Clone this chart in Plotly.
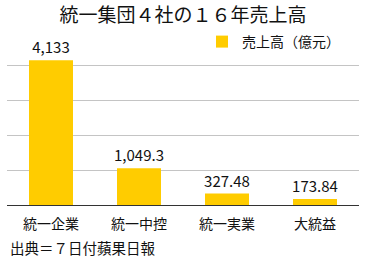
import plotly.graph_objects as go

categories = ["統一企業", "統一中控", "統一実業", "大統益"]
sales = [4133, 1049.3, 327.48, 173.84]
value_labels = ["4,133", "1,049.3", "327.48", "173.84"]
series_name = "売上高（億元）"
title_text = "統一集団４社の１６年売上高"
source_text = "出典＝７日付蘋果日報"

FONT = "Noto Sans CJK JP, Noto Sans, sans-serif"
W, H = 368, 261
ml, mr, mt, mb = 7, 9, 30, 56

fig = go.Figure()
fig.add_trace(go.Bar(
    x=categories, y=sales, name=series_name,
    marker=dict(color="#FFCC00", line=dict(width=0)),
    text=value_labels, textposition="outside", cliponaxis=False,
    constraintext="none", textangle=0,
    textfont=dict(size=15, color="#111111", family=FONT),
    showlegend=True,
))

fig.update_layout(
    width=W, height=H,
    margin=dict(l=ml, r=mr, t=mt, b=mb, pad=0),
    paper_bgcolor="white", plot_bgcolor="white",
    bargap=0.5,
    font=dict(family=FONT, color="#111111"),
    title=dict(text=title_text, x=0.497, xanchor="center",
               y=1 - 15 / H, yanchor="middle", yref="container",
               font=dict(size=19, color="#111111", family=FONT)),
    showlegend=True,
    legend=dict(x=(202 - ml) / (W - ml - mr), y=1 - (42 - mt) / (H - mt - mb),
                xanchor="left", yanchor="middle", bgcolor="rgba(0,0,0,0)",
                font=dict(size=14, color="#111111", family=FONT)),
    xaxis=dict(showgrid=False, showline=True, linecolor="#333333", linewidth=1,
               ticks="", ticklabelstandoff=6,
               tickfont=dict(size=14, color="#111111", family=FONT),
               fixedrange=True),
    yaxis=dict(range=[0, 5000], dtick=1000, showgrid=True, gridcolor="#C4C4C4",
               gridwidth=1, showticklabels=False, zeroline=False, ticks="",
               fixedrange=True),
    annotations=[dict(text=source_text, xref="paper", yref="paper",
                      x=(8 - ml) / (W - ml - mr), y=(205 - 247) / (H - mt - mb),
                      xanchor="left", yanchor="middle", showarrow=False,
                      font=dict(size=14.5, color="#111111", family=FONT))],
)

fig.write_html("out.html")
